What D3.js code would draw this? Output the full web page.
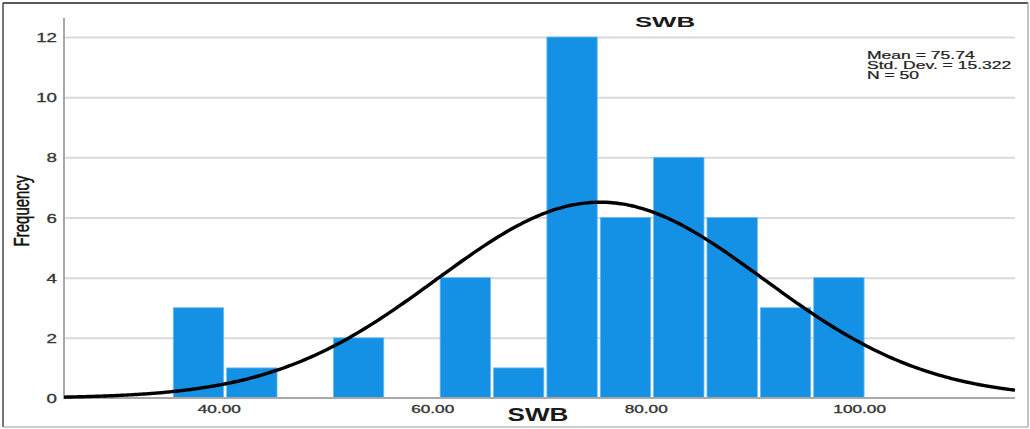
<!DOCTYPE html>
<html>
<head>
<meta charset="utf-8">
<script src="https://cdn.jsdelivr.net/npm/d3@7/dist/d3.min.js"></script>
<style>
  html, body { margin: 0; padding: 0; background: #fff; }
  svg { display: block; }
  text { font-family: "Liberation Sans", Arial, Helvetica, sans-serif; }
</style>
</head>
<body>
<svg id="chart" width="1030" height="429"></svg>
<script>
// ---- data ----
const binLow = [35.6, 40.6, 45.6, 50.6, 55.6, 60.6, 65.6, 70.6, 75.6, 80.6, 85.6, 90.6, 95.6];
const binWidth = 5;
const counts = [3, 1, 0, 2, 0, 4, 1, 12, 6, 8, 6, 3, 4];
const xTicks = [40, 60, 80, 100];
const xTickLabels = ["40.00", "60.00", "80.00", "100.00"];
const yTicks = [0, 2, 4, 6, 8, 10, 12];
const statMean = 75.74;
const statSD = 15.322;
const statN = 50;
const legendLines = ["Mean = 75.74", "Std. Dev. = 15.322", "N = 50"];

// ---- layout ----
const mLeft = 64, mRight = 1015, mTop = 37, mBottom = 398;
const svg = d3.select("#chart");

const x = d3.scaleLinear().domain([25.5, 114.6]).range([mLeft, mRight]);
const y = d3.scaleLinear().domain([0, 12]).range([mBottom, mTop]);

// frame
svg.append("line").attr("x1", 3).attr("x2", 1028).attr("y1", 3).attr("y2", 3)
  .attr("stroke", "#5a5a5a").attr("stroke-width", 2);
svg.append("line").attr("x1", 3).attr("x2", 3).attr("y1", 3).attr("y2", 427)
  .attr("stroke", "#4a4a4a").attr("stroke-width", 1.5);
svg.append("line").attr("x1", 1028).attr("x2", 1028).attr("y1", 3).attr("y2", 427)
  .attr("stroke", "#9a9a9a").attr("stroke-width", 1.2);
svg.append("line").attr("x1", 3).attr("x2", 1028).attr("y1", 427).attr("y2", 427)
  .attr("stroke", "#9a9a9a").attr("stroke-width", 1.2);

// gridlines
const grid = svg.append("g").attr("transform", `translate(${mLeft},0)`)
  .call(d3.axisLeft(y).tickValues(yTicks.filter(d => d > 0)).tickSize(-(mRight - mLeft)).tickFormat(""));
grid.select(".domain").remove();
grid.selectAll(".tick line").attr("stroke", "#d9d9d9").attr("stroke-width", 2);

// bars
svg.append("g").selectAll("rect")
  .data(binLow.map((b, i) => ({ lo: b, hi: b + binWidth, c: counts[i] })).filter(d => d.c > 0))
  .join("rect")
  .attr("x", d => x(d.lo) + 1.5)
  .attr("width", d => x(d.hi) - x(d.lo) - 3)
  .attr("y", d => y(d.c))
  .attr("height", d => y(0) - y(d.c))
  .attr("fill", "#1490e5")
  .attr("stroke", "#6bbcf0")
  .attr("stroke-width", 0.8);

// y axis
const yAxis = svg.append("g").attr("transform", `translate(${mLeft},0)`)
  .call(d3.axisLeft(y).tickValues(yTicks).tickSize(0).tickPadding(0).tickFormat(d3.format("d")));
yAxis.select(".domain").remove();
const ySx = 1.5;
yAxis.selectAll(".tick text")
  .attr("x", -7 / ySx).attr("dy", "0.36em")
  .attr("transform", `scale(${ySx},1)`)
  .attr("font-size", 12.5).attr("fill", "#333")
  .attr("stroke", "#333").attr("stroke-width", 0.3);
svg.append("line").attr("x1", mLeft).attr("x2", mLeft).attr("y1", 18).attr("y2", mBottom + 1)
  .attr("stroke", "#a8a8a8").attr("stroke-width", 2);

// x axis
const xAxis = svg.append("g").attr("transform", `translate(0,${mBottom})`)
  .call(d3.axisBottom(x).tickValues(xTicks).tickSize(0).tickPadding(0)
    .tickFormat((d, i) => xTickLabels[i]));
xAxis.select(".domain").remove();
xAxis.selectAll(".tick text")
  .attr("y", 15).attr("dy", 0)
  .attr("transform", "scale(1.64,1)")
  .attr("font-size", 10.5).attr("fill", "#333")
  .attr("stroke", "#333").attr("stroke-width", 0.3);
svg.append("line").attr("x1", mLeft).attr("x2", mRight).attr("y1", mBottom).attr("y2", mBottom)
  .attr("stroke", "#a8a8a8").attr("stroke-width", 2);

// normal curve
const curvePts = d3.range(0, 301).map(i => {
  const xv = x.domain()[0] + (x.domain()[1] - x.domain()[0]) * i / 300;
  const z = (xv - statMean) / statSD;
  const yv = statN * binWidth / (statSD * Math.sqrt(2 * Math.PI)) * Math.exp(-0.5 * z * z);
  return [xv, yv];
});
svg.append("path")
  .datum(curvePts)
  .attr("d", d3.line().x(d => x(d[0])).y(d => y(d[1])).curve(d3.curveBasis))
  .attr("fill", "none").attr("stroke", "#000").attr("stroke-width", 3.4);

// title
svg.append("text")
  .attr("transform", "translate(665,27) scale(1.72,1)")
  .attr("text-anchor", "middle").attr("font-size", 15).attr("font-weight", "bold")
  .attr("fill", "#1a1a1a").text("SWB");

// x axis title
svg.append("text")
  .attr("transform", "translate(538,421) scale(1.45,1)")
  .attr("text-anchor", "middle").attr("font-size", 18).attr("font-weight", "bold")
  .attr("fill", "#1a1a1a").text("SWB");

// y axis title
svg.append("text")
  .attr("transform", "translate(29,211) scale(1.45,1) rotate(-90)")
  .attr("text-anchor", "middle").attr("font-size", 15)
  .attr("fill", "#111").attr("stroke", "#111").attr("stroke-width", 0.35)
  .text("Frequency");

// stats legend
svg.append("g").selectAll("text")
  .data(legendLines)
  .join("text")
  .attr("transform", (d, i) => `translate(867,${59 + i * 9.8}) scale(1.72,1)`)
  .attr("font-size", 10.2).attr("fill", "#222")
  .attr("stroke", "#222").attr("stroke-width", 0.2)
  .text(d => d);
</script>
</body>
</html>
